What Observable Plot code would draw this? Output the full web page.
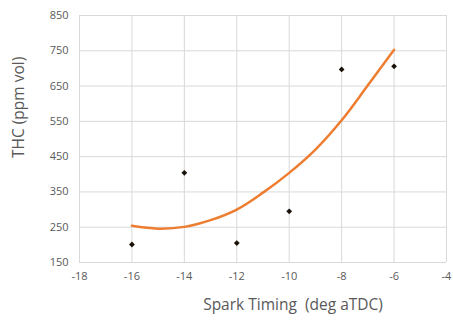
<!DOCTYPE html>
<html><head><meta charset="utf-8">
<script src="https://cdn.jsdelivr.net/npm/d3@7"></script>
<script src="https://cdn.jsdelivr.net/npm/@observablehq/plot@0.6"></script>
<style>body{margin:0;background:#fff;} svg{display:block;}</style>
</head><body><div id="chart"></div>
<script>
const sparkTiming = [-16, -14, -12, -10, -8, -6];
const thc = [201, 404, 205, 295, 697, 706];
const trendX = [-16, -15, -14, -13, -12, -11, -10, -9, -8, -7, -6];
const trendY = [254, 246, 251, 270, 300, 348, 404, 470, 553, 652, 753];
const xTicks = [-18, -16, -14, -12, -10, -8, -6, -4];
const yTicks = [150, 250, 350, 450, 550, 650, 750, 850];
const xLabel = "Spark Timing  (deg aTDC)";
const yLabel = "THC (ppm vol)";

const points = sparkTiming.map((x, i) => ({x, y: thc[i]}));
const trend = trendX.map((x, i) => ({x, y: trendY[i]}));

const chart = Plot.plot({
  width: 453, height: 322,
  marginLeft: 79, marginRight: 7, marginTop: 15, marginBottom: 60,
  style: {fontFamily: "'Open Sans', sans-serif", color: "#595959", background: "#fff"},
  x: {domain: [-18, -4]},
  y: {domain: [150, 850]},
  marks: [
    Plot.gridX(xTicks, {stroke: "#d9d9d9", strokeOpacity: 1, strokeWidth: 1}),
    Plot.gridY(yTicks, {stroke: "#d9d9d9", strokeOpacity: 1, strokeWidth: 1}),
    Plot.axisX(xTicks, {tickSize: 0, tickPadding: 10, fontSize: 11, fill: "#595959", label: null, tickFormat: d => String(d)}),
    Plot.axisY(yTicks, {tickSize: 0, tickPadding: 11, fontSize: 11, fill: "#595959", label: null}),
    Plot.line(trend, {x: "x", y: "y", stroke: "#ED7D31", strokeWidth: 2.5, curve: "catmull-rom"}),
    Plot.dot(points, {x: "x", y: "y", symbol: "diamond2", r: 2.6, fill: "#1a1208", stroke: "none"}),
    Plot.text([xLabel], {frameAnchor: "bottom", dy: 47, dx: 30, fontSize: 15.5, fill: "#595959"}),
    Plot.text([yLabel], {frameAnchor: "left", dx: -60, dy: 19, rotate: -90, fontSize: 15.5, fill: "#595959"})
  ]
});
document.getElementById("chart").append(chart);
</script></body></html>
